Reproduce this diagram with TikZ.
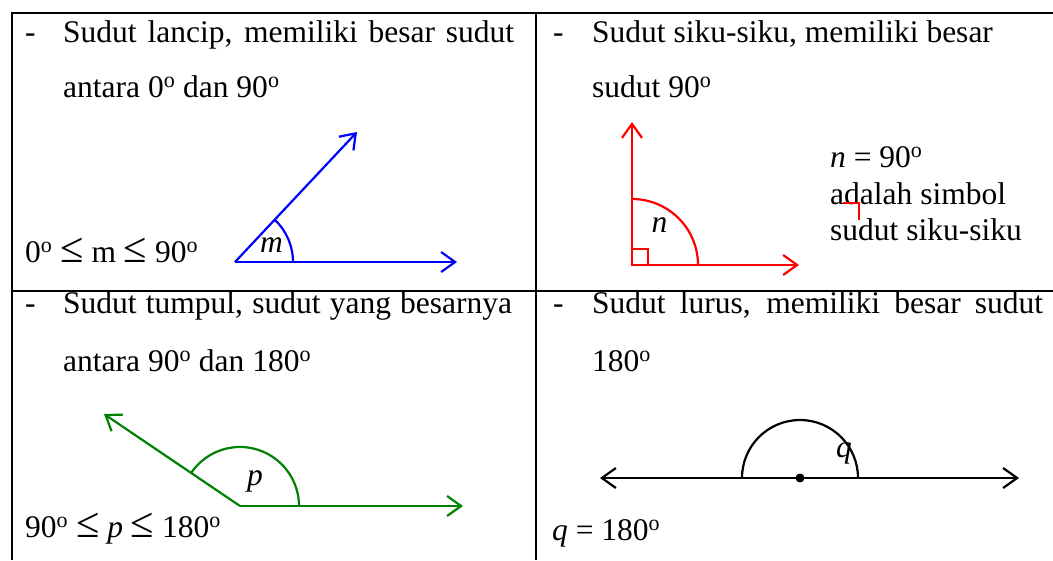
\documentclass[tikz,border=0pt]{standalone}
\usepackage{graphicx}
\usepackage{fontspec}
\setmainfont{Liberation Serif}
\newcommand{\lesym}{\raisebox{-0.02em}{\scalebox{1.35}{≤}}}
\usetikzlibrary{arrows.meta,calc}
\definecolor{grn}{RGB}{0,128,0}
\begin{document}
\begin{tikzpicture}[x=1pt,y=-1pt,
  txt/.style={anchor=base west,inner sep=0pt,font=\fontsize{31.5}{37}\selectfont},
  lbl/.style={anchor=base,inner sep=0pt,font=\fontsize{31.5}{37}\selectfont\itshape},
  ray/.style={line width=2.2pt,-{Straight Barb[length=14pt,width=20pt,line width=2.2pt]}},
  bray/.style={line width=2.2pt,{Straight Barb[length=14pt,width=20pt,line width=2.2pt]}-{Straight Barb[length=14pt,width=20pt,line width=2.2pt]}},
  arcline/.style={line width=2.2pt},
  grid/.style={line width=2pt}]
\useasboundingbox (0,0) rectangle (1053,560);
\fill[white] (0,0) rectangle (1053,560);
% table rules
\draw[grid] (1053,12.5) -- (11.5,12.5) -- (11.5,560);
\draw[grid] (535.5,12.5) -- (535.5,560);
\draw[grid] (11.5,291) -- (1053,291);

% ---- top left: acute
\node[txt] (d1) at (25,42) {-};
\node[txt] (t1a) at (63,42) {\makebox[451pt][s]{Sudut lancip, memiliki besar sudut}};
\node[txt] (t1b) at (63,97) {antara 0\textsuperscript{o} dan 90\textsuperscript{o}};
\node[txt] (f1) at (25,262) {0\textsuperscript{o} \lesym{} m \lesym{} 90\textsuperscript{o}};
\coordinate (m0) at (235,262);
\coordinate (m1) at (457,262);
\coordinate (m2) at (357,132);
\draw[ray,blue] (m0) -- (m1);
\draw[ray,blue] (m0) -- (m2);
\draw[arcline,blue] ($(m0)+(58,0)$) arc[start angle=0,end angle=-47,radius=58];
\node[lbl] (lm) at (271.5,252) {m};

% ---- top right: right angle
\node[txt] (d2) at (553,42) {-};
\node[txt] (t2a) at (592,42) {Sudut siku-siku, memiliki besar};
\node[txt] (t2b) at (592,97) {sudut 90\textsuperscript{o}};
\coordinate (n0) at (632,265);
\coordinate (n1) at (632,122);
\coordinate (n2) at (799,265);
\draw[ray,red] (n0) -- (n1);
\draw[ray,red] (n0) -- (n2);
\draw[arcline,red] ($(n0)+(66,0)$) arc[start angle=0,end angle=-90,radius=66];
\draw[red,line width=1.8pt] (n0) rectangle ($(n0)+(16,-16)$);
\node[lbl] (ln) at (659.5,232) {n};
\node[txt] (s1) at (830,167) {\textit{n} = 90\textsuperscript{o}};
\node[txt] (s2) at (830,204) {adalah simbol};
\node[txt] (s3) at (830,240) {sudut siku-siku};
\coordinate (k0) at (843,203);
\coordinate (k1) at (859,203);
\coordinate (k2) at (859,220);
\draw[red,line width=1.5pt] (k0) -- (k1) -- (k2);

% ---- bottom left: obtuse
\node[txt] (d3) at (25,313) {-};
\node[txt] (t3a) at (63,313) {\makebox[449pt][s]{Sudut tumpul, sudut yang besarnya}};
\node[txt] (t3b) at (63,371) {antara 90\textsuperscript{o} dan 180\textsuperscript{o}};
\node[txt] (f3) at (25,537) {90\textsuperscript{o} \lesym{} \textit{p} \lesym{} 180\textsuperscript{o}};
\coordinate (p0) at (240,506);
\coordinate (p1) at (463,506);
\coordinate (p2) at (104,414);
\draw[ray,grn] (p0) -- (p1);
\draw[ray,grn] (p0) -- (p2);
\draw[arcline,grn] ($(p0)+(59,0)$) arc[start angle=0,end angle=-146,radius=59];
\node[lbl] (lp) at (255,485) {p};

% ---- bottom right: straight
\node[txt] (d4) at (553,313) {-};
\node[txt] (t4a) at (592,313) {\makebox[451pt][s]{Sudut lurus, memiliki besar sudut}};
\node[txt] (t4b) at (592,371) {180\textsuperscript{o}};
\node[txt] (f4) at (552,540) {\textit{q} = 180\textsuperscript{o}};
\coordinate (q0) at (800,478);
\coordinate (q1) at (600,478);
\coordinate (q2) at (1019,478);
\draw[bray,black] (q1) -- (q2);
\draw[arcline,black] ($(q0)+(58,0)$) arc[start angle=0,end angle=-180,radius=58];
\fill[black] (q0) circle[radius=4.5];
\node[lbl] (lq) at (844,457) {q};
\end{tikzpicture}
\end{document}
